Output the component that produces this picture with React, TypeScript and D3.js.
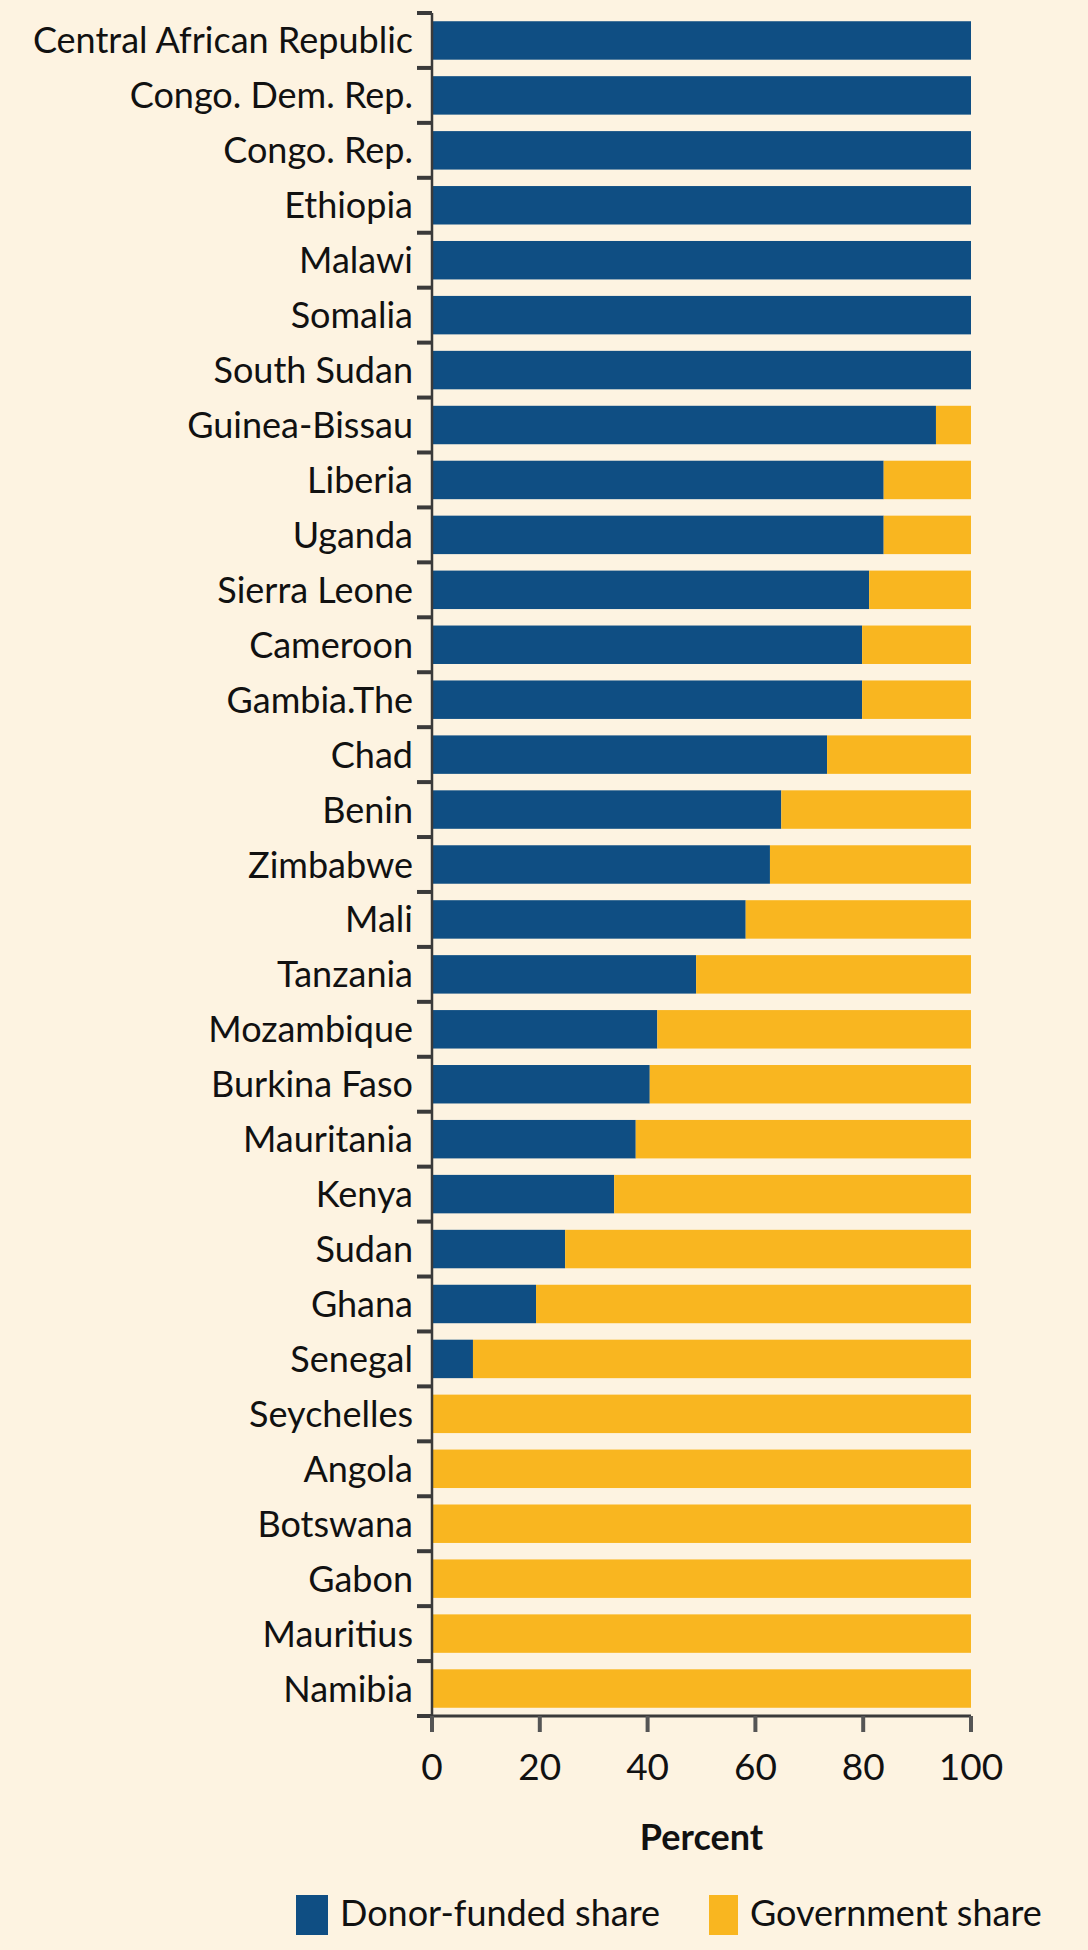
import React from "react";
import * as d3 from "d3";

// countries from top to bottom
const countries = [
  "Central African Republic", "Congo. Dem. Rep.", "Congo. Rep.", "Ethiopia", "Malawi",
  "Somalia", "South Sudan", "Guinea-Bissau", "Liberia", "Uganda", "Sierra Leone",
  "Cameroon", "Gambia.The", "Chad", "Benin", "Zimbabwe", "Mali", "Tanzania",
  "Mozambique", "Burkina Faso", "Mauritania", "Kenya", "Sudan", "Ghana", "Senegal",
  "Seychelles", "Angola", "Botswana", "Gabon", "Mauritius", "Namibia",
];

// donor-funded share in percent, same order
const donorShare = [
  100, 100, 100, 100, 100, 100, 100, 93.5, 83.8, 83.8, 81.1, 79.8, 79.8, 73.3,
  64.8, 62.7, 58.2, 49.0, 41.8, 40.4, 37.8, 33.8, 24.7, 19.3, 7.6,
  0, 0, 0, 0, 0, 0,
];

// government share is the rest
const governmentShare = donorShare.map(v => 100 - v);

const xTicks = [0, 20, 40, 60, 80, 100];

const seriesNames = ["Donor-funded share", "Government share"];

const W = 1088;
const H = 1950;
const BLUE = "#0f4e83";
const YELLOW = "#f9b620";
const BG = "#fdf3e1";
const INK = "#111";
const AXIS = "#3a3a3a";
const FONT = "Lato, 'Noto Sans', sans-serif";
const FS = 36;

const App: React.FC = () => {
  const x = d3.scaleLinear().domain([0, 100]).range([432, 971]);
  const y = d3.scaleBand<string>()
    .domain(countries)
    .range([13, 1716])
    .paddingInner(0.3)
    .paddingOuter(0.15);

  const step = y.step();
  const bw = y.bandwidth();
  const top = y.range()[0];
  const bottom = y.range()[1];
  const boundaries = d3.range(countries.length + 1).map(i => top + i * step);

  const rows = countries.map((c, i) => ({
    country: c,
    donor: donorShare[i],
    gov: governmentShare[i],
  }));

  const legend = [
    { name: seriesNames[0], color: BLUE, x: 296, w: 32 },
    { name: seriesNames[1], color: YELLOW, x: 709, w: 29 },
  ];

  return (
    <svg width={W} height={H} style={{ position: "absolute", left: 0, top: 0 }} fontFamily={FONT}>
      <rect width={W} height={H} fill={BG} />

      {rows.map(r => (
        <g key={r.country}>
          {r.donor > 0 && (
            <rect x={x(0)} y={y(r.country)} width={x(r.donor) - x(0)} height={bw} fill={BLUE} />
          )}
          {r.gov > 0 && (
            <rect x={x(r.donor)} y={y(r.country)} width={x(100) - x(r.donor)} height={bw} fill={YELLOW} />
          )}
          <text
            x={413}
            y={(y(r.country) as number) + bw / 2 - 1}
            textAnchor="end"
            dominantBaseline="central"
            fontSize={FS}
            fill={INK}
          >
            {r.country}
          </text>
        </g>
      ))}

      {/* y axis */}
      <line x1={x(0)} x2={x(0)} y1={top} y2={bottom} stroke={AXIS} strokeWidth={2.5} />
      {boundaries.map((b, i) => (
        <line key={i} x1={417} x2={x(0)} y1={b} y2={b} stroke={AXIS} strokeWidth={4} />
      ))}

      {/* x axis */}
      <line x1={417} x2={x(100)} y1={bottom} y2={bottom} stroke={AXIS} strokeWidth={3} />
      {xTicks.map(t => (
        <g key={t}>
          <line x1={x(t)} x2={x(t)} y1={bottom} y2={bottom + 16} stroke="#555" strokeWidth={4} />
          <text x={x(t)} y={bottom + 49} textAnchor="middle" dominantBaseline="central" fontSize={37} fill={INK}>
            {t}
          </text>
        </g>
      ))}
      <text x={(x(0) + x(100)) / 2} y={1836} textAnchor="middle" dominantBaseline="central"
        fontSize={FS} fontWeight="bold" fill={INK}>
        Percent
      </text>

      {/* legend */}
      {legend.map(l => (
        <g key={l.name}>
          <rect x={l.x} y={1895} width={l.w} height={40} fill={l.color} />
          <text x={l.x + l.w + 12} y={1912} dominantBaseline="central" fontSize={FS} fill={INK}>
            {l.name}
          </text>
        </g>
      ))}
    </svg>
  );
};

export default App;
